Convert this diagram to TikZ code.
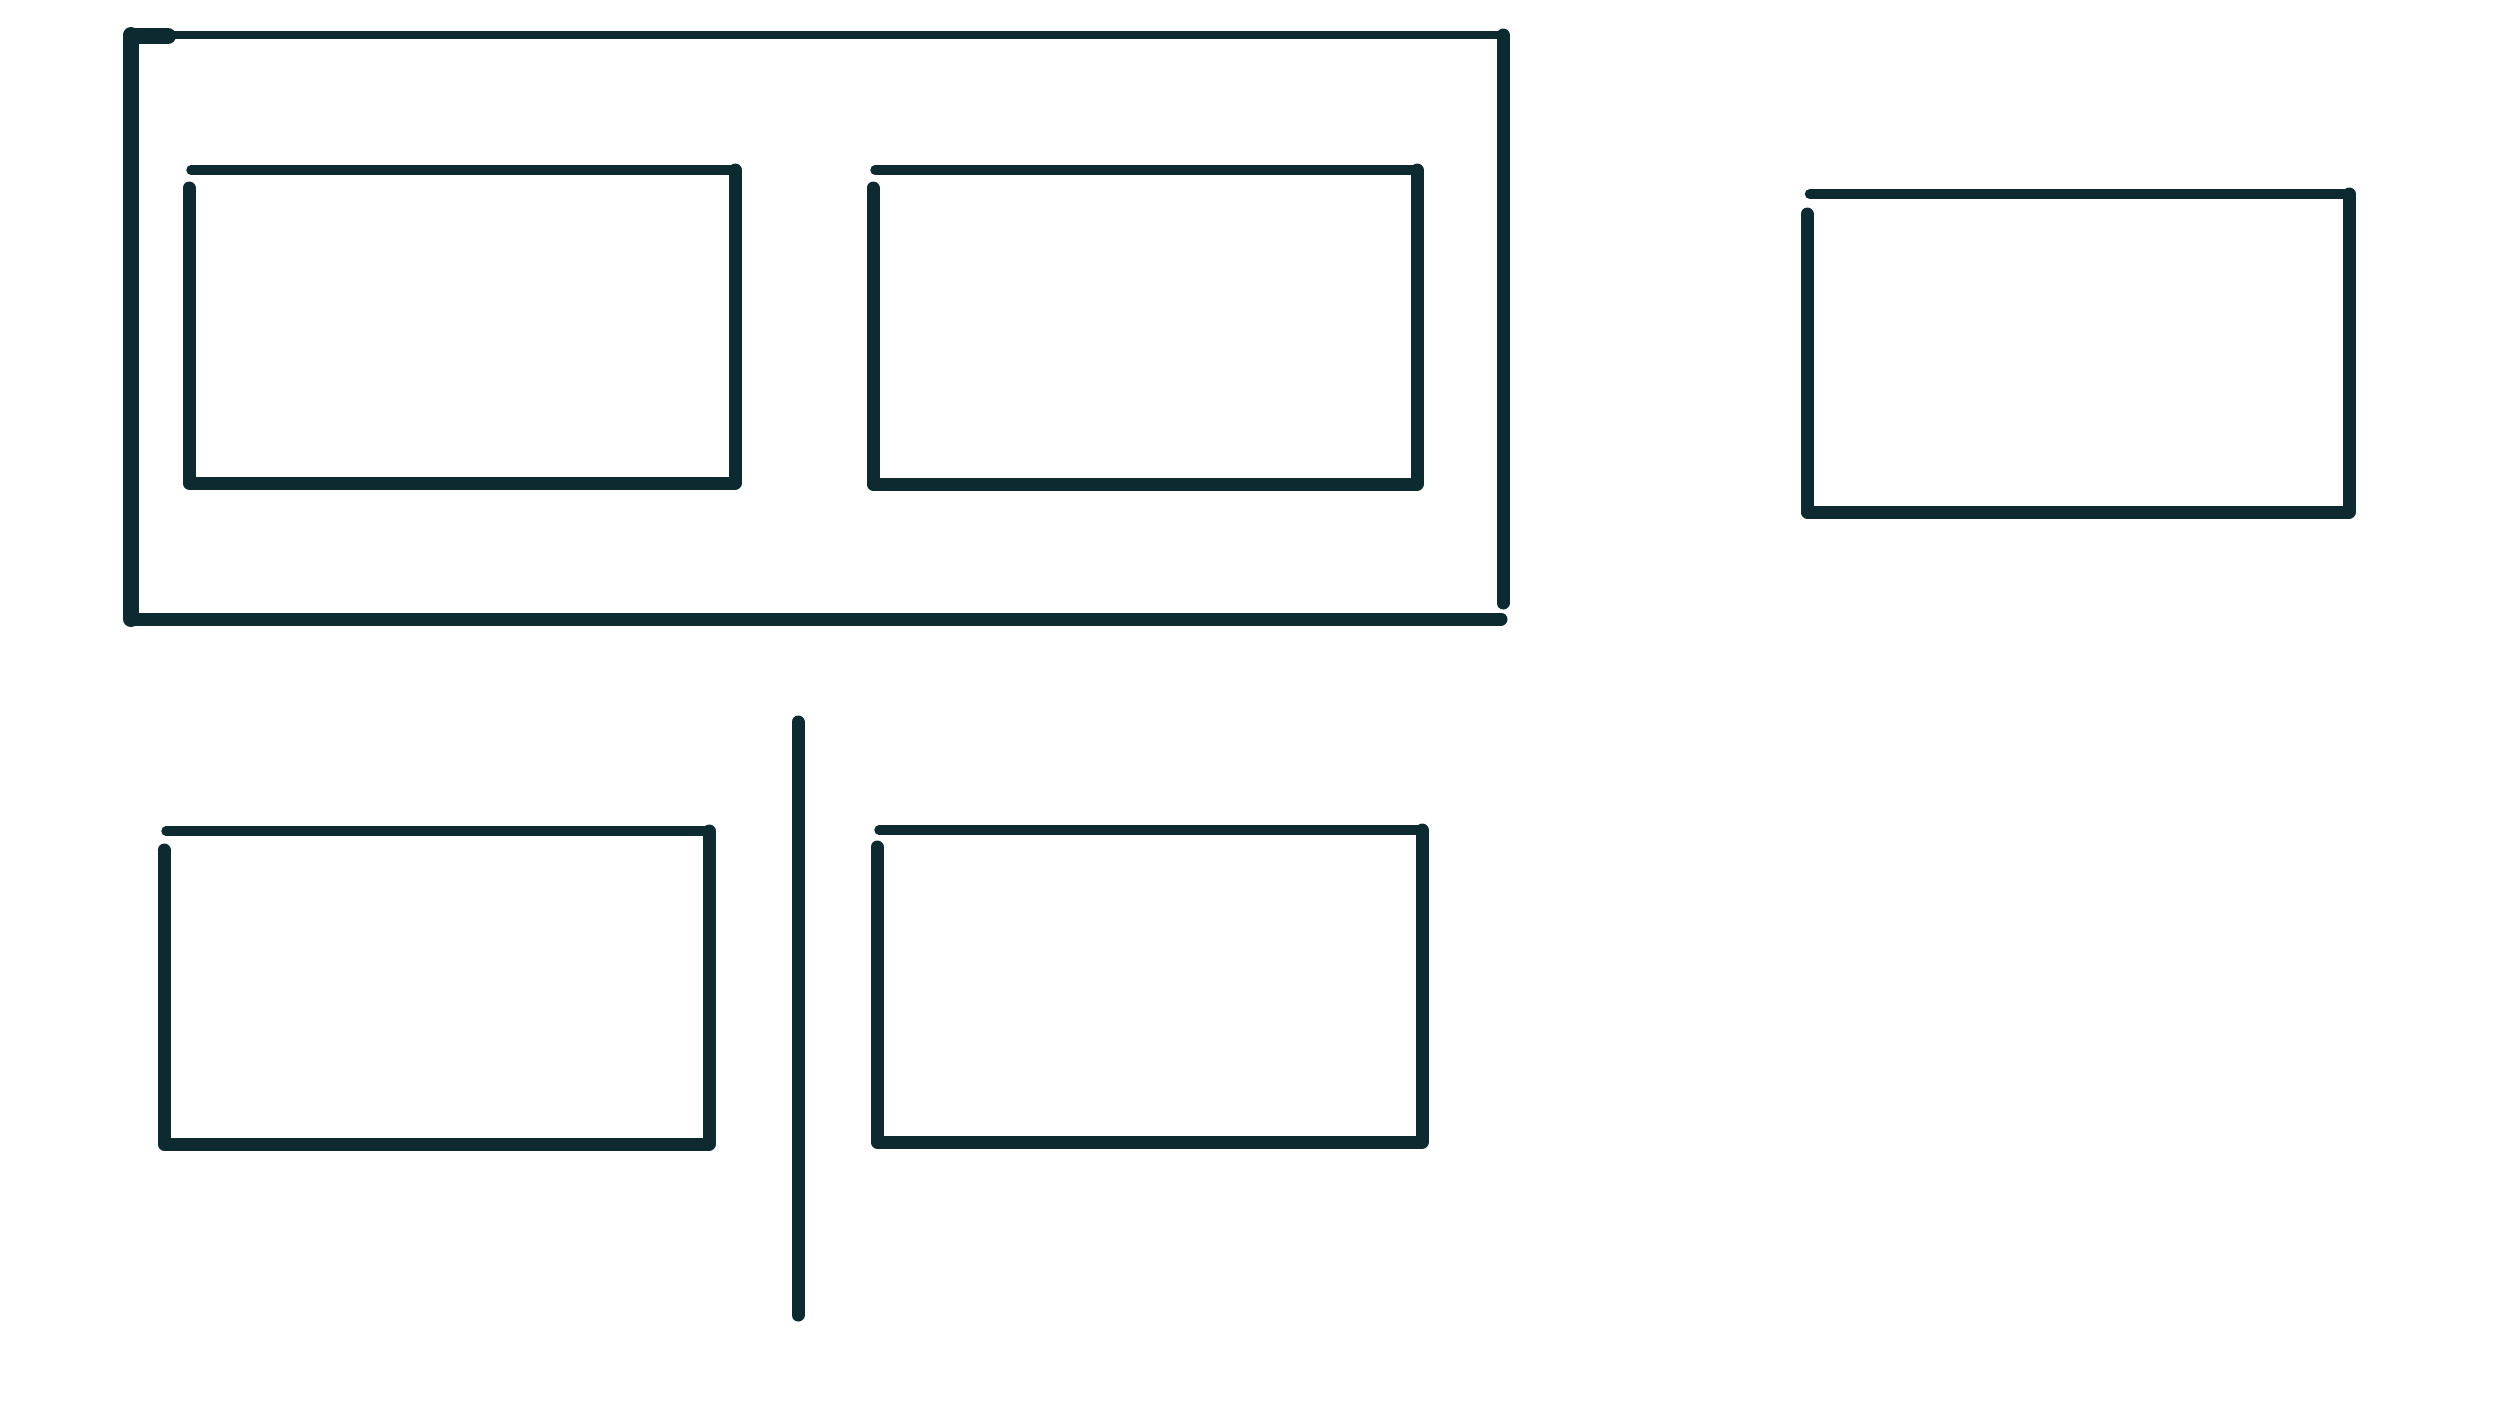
\documentclass[tikz,border=0pt]{standalone}
\definecolor{tinta}{HTML}{0C2A30}
\begin{document}
\begin{tikzpicture}[x=0.1mm,y=-0.1mm,
  caja/.style={draw=tinta,line width=1.3mm,line cap=round,line join=round},
  tapa/.style={caja,line width=0.95mm}
  ]
  \useasboundingbox (0,0) rectangle (2500,1406);

  % marco
  \draw[caja,line width=1.6mm] (131,36) -- (168,36);
  \draw[tapa,line width=0.8mm] (131,35) -- (1503,35);
  \draw[caja,line width=1.6mm] (131,35) -- (131,619);
  \draw[caja,line width=1.3mm] (1503,35) -- (1503,603);
  \draw[caja] (131,619) -- (1501,619);

  % cajas dentro del marco
  \draw[tapa] (191,170) -- (735,170);
  \draw[caja] (735,170) -- (735,483) -- (189,483) -- (189,188);
  \draw[tapa] (875,170) -- (1417,170);
  \draw[caja] (1417,170) -- (1417,484) -- (873,484) -- (873,188);

  % caja suelta
  \draw[tapa,line width=1.05mm] (1810,194) -- (2349,194);
  \draw[caja] (2349,194) -- (2349,512) -- (1807,512) -- (1807,214);

  % cajas de abajo y separador
  \draw[tapa] (166,831) -- (709,831);
  \draw[caja] (709,831) -- (709,1144) -- (164,1144) -- (164,850);
  \draw[tapa] (879,830) -- (1422,830);
  \draw[caja] (1422,830) -- (1422,1142) -- (877,1142) -- (877,847);
  \draw[caja] (798,722) -- (798,1315);

\end{tikzpicture}
\end{document}
